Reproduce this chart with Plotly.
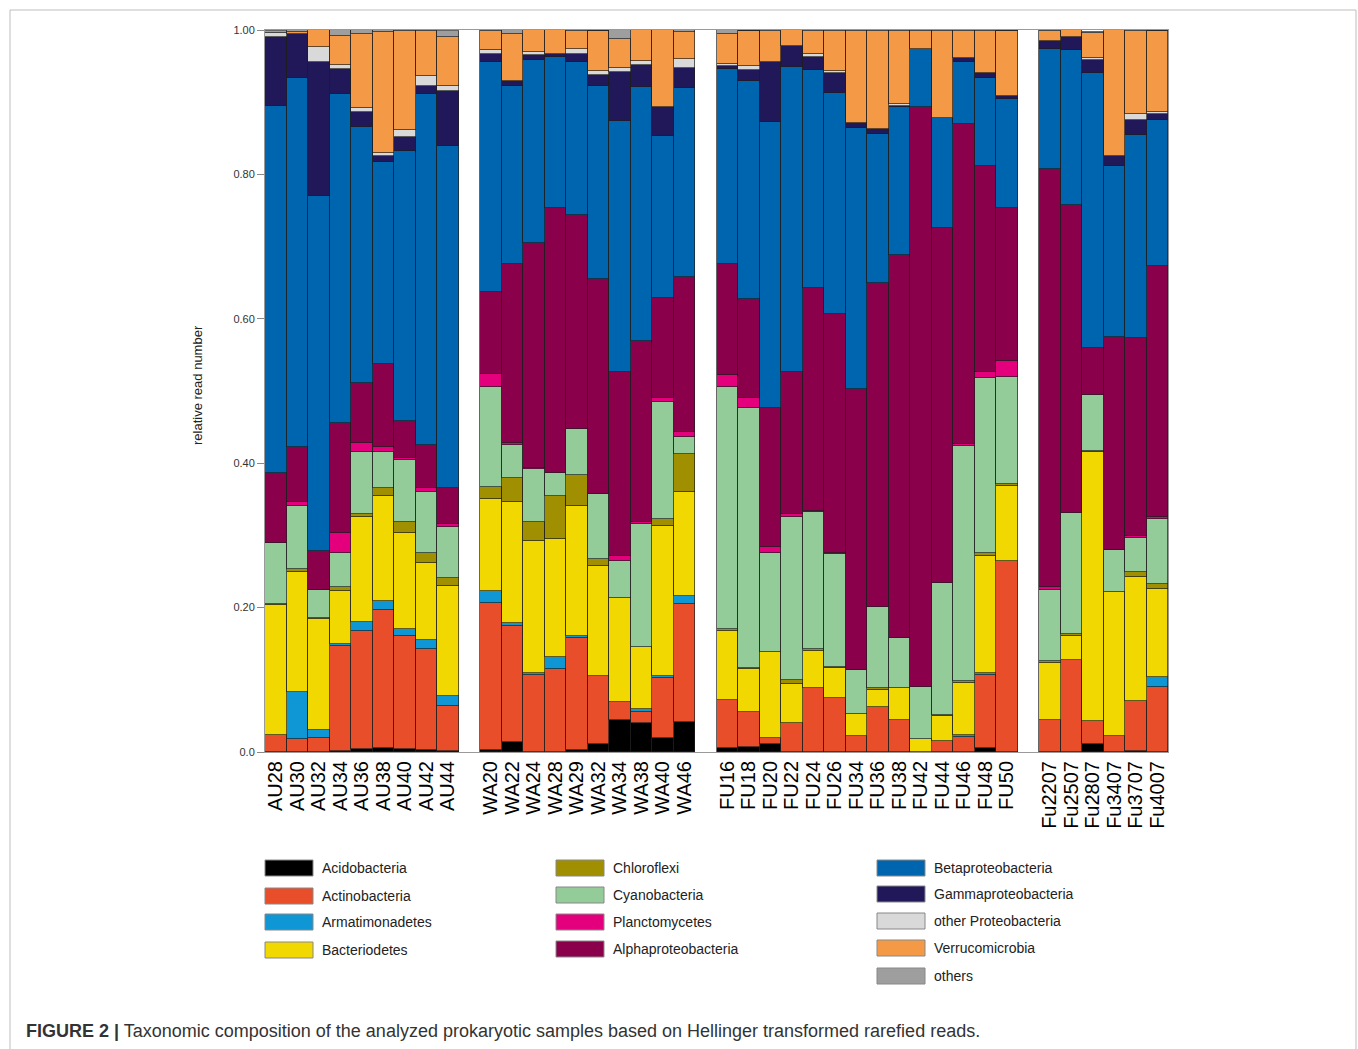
import plotly.graph_objects as go

# ---------------- data ----------------
au_samples = ["AU28", "AU30", "AU32", "AU34", "AU36", "AU38", "AU40", "AU42", "AU44"]
wa_samples = ["WA20", "WA22", "WA24", "WA28", "WA29", "WA32", "WA34", "WA38", "WA40", "WA46"]
fu_samples = ["FU16", "FU18", "FU20", "FU22", "FU24", "FU26", "FU34", "FU36", "FU38",
              "FU42", "FU44", "FU46", "FU48", "FU50"]
fu2_samples = ["Fu2207", "Fu2507", "Fu2807", "Fu3407", "Fu3707", "Fu4007"]

taxa = ["Acidobacteria", "Actinobacteria", "Armatimonadetes", "Bacteriodetes",
        "Chloroflexi", "Cyanobacteria", "Planctomycetes", "Alphaproteobacteria",
        "Betaproteobacteria", "Gammaproteobacteria", "other Proteobacteria",
        "Verrucomicrobia", "others"]

acidobacteria = [0, 0, 0, 0.002, 0.004, 0.006, 0.004, 0.003, 0.002,
                 0.003, 0.014, 0, 0, 0.003, 0.011, 0.044, 0.040, 0.019, 0.041,
                 0.006, 0.007, 0.011, 0, 0, 0, 0, 0, 0, 0, 0, 0, 0.005, 0,
                 0, 0, 0.011, 0, 0.002, 0]
actinobacteria = [0.023, 0.018, 0.019, 0.145, 0.164, 0.191, 0.156, 0.139, 0.062,
                  0.203, 0.161, 0.107, 0.115, 0.155, 0.094, 0.025, 0.016, 0.083, 0.164,
                  0.066, 0.048, 0.008, 0.040, 0.088, 0.075, 0.022, 0.062, 0.044, 0, 0.015, 0.021, 0.101, 0.265,
                  0.045, 0.127, 0.032, 0.022, 0.068, 0.090]
armatimonadetes = [0, 0.065, 0.012, 0.003, 0.012, 0.012, 0.011, 0.013, 0.014,
                   0.017, 0.004, 0.002, 0.016, 0.002, 0, 0, 0.003, 0.003, 0.011,
                   0, 0, 0, 0, 0, 0, 0, 0, 0, 0, 0, 0.002, 0.004, 0,
                   0, 0, 0, 0, 0, 0.014]
bacteriodetes = [0.180, 0.167, 0.153, 0.073, 0.146, 0.146, 0.133, 0.107, 0.152,
                 0.128, 0.167, 0.183, 0.164, 0.181, 0.152, 0.144, 0.087, 0.208, 0.144,
                 0.096, 0.060, 0.119, 0.054, 0.052, 0.042, 0.030, 0.024, 0.044, 0.018, 0.035, 0.073, 0.161, 0.103,
                 0.078, 0.034, 0.372, 0.199, 0.173, 0.122]
chloroflexi = [0.002, 0.003, 0.002, 0.006, 0.004, 0.010, 0.015, 0.013, 0.011,
               0.016, 0.034, 0.027, 0.059, 0.042, 0.010, 0, 0, 0.010, 0.053,
               0.003, 0.002, 0.001, 0.006, 0.002, 0.001, 0.001, 0.003, 0, 0, 0.001, 0.003, 0.004, 0.003,
               0.003, 0.002, 0.002, 0.001, 0.007, 0.007]
cyanobacteria = [0.085, 0.088, 0.038, 0.046, 0.085, 0.051, 0.086, 0.085, 0.070,
                 0.139, 0.045, 0.073, 0.032, 0.064, 0.091, 0.051, 0.170, 0.162, 0.023,
                 0.335, 0.360, 0.137, 0.226, 0.191, 0.156, 0.061, 0.112, 0.070, 0.072, 0.183, 0.325, 0.243, 0.148,
                 0.099, 0.168, 0.077, 0.058, 0.047, 0.090]
planctomycetes = [0, 0.005, 0, 0.029, 0.013, 0.007, 0.002, 0.005, 0.005,
                  0.017, 0.003, 0.002, 0, 0, 0, 0.008, 0.003, 0.005, 0.007,
                  0.016, 0.014, 0.008, 0.003, 0.001, 0.001, 0, 0, 0, 0, 0, 0.002, 0.008, 0.023,
                  0.003, 0, 0, 0, 0.002, 0.002]
alphaproteobacteria = [0.096, 0.076, 0.055, 0.151, 0.083, 0.114, 0.051, 0.060, 0.050,
                       0.114, 0.248, 0.311, 0.368, 0.297, 0.297, 0.255, 0.250, 0.139, 0.215,
                       0.154, 0.136, 0.193, 0.198, 0.309, 0.331, 0.389, 0.449, 0.531, 0.803, 0.492, 0.444, 0.285, 0.211,
                       0.579, 0.426, 0.066, 0.295, 0.275, 0.348]
betaproteobacteria = [0.509, 0.511, 0.491, 0.456, 0.354, 0.280, 0.375, 0.487, 0.474,
                      0.318, 0.246, 0.254, 0.208, 0.211, 0.267, 0.347, 0.352, 0.224, 0.261,
                      0.270, 0.303, 0.395, 0.422, 0.301, 0.307, 0.361, 0.206, 0.204, 0.081, 0.152, 0.085, 0.122, 0.152,
                      0.166, 0.215, 0.381, 0.236, 0.281, 0.203]
gammaproteobacteria = [0.096, 0.061, 0.186, 0.035, 0.021, 0.009, 0.019, 0.011, 0.076,
                       0.012, 0.007, 0.007, 0.005, 0.012, 0.016, 0.068, 0.031, 0.041, 0.029,
                       0.004, 0.015, 0.083, 0.029, 0.018, 0.027, 0.007, 0.007, 0.002, 0, 0, 0.006, 0.007, 0.003,
                       0.012, 0.018, 0.018, 0.014, 0.020, 0.008]
other_proteobacteria = [0.005, 0, 0.020, 0.005, 0.006, 0.003, 0.009, 0.013, 0.007,
                        0.005, 0, 0.004, 0, 0.007, 0.005, 0.005, 0.005, 0, 0.012,
                        0.003, 0.005, 0, 0, 0.005, 0.003, 0, 0, 0.003, 0, 0, 0, 0, 0,
                        0, 0, 0.002, 0, 0.008, 0.002]
verrucomicrobia = [0, 0.003, 0.024, 0.041, 0.103, 0.168, 0.138, 0.062, 0.068,
                   0.027, 0.065, 0.030, 0.033, 0.025, 0.055, 0.041, 0.043, 0.106, 0.037,
                   0.042, 0.048, 0.044, 0.022, 0.032, 0.056, 0.128, 0.136, 0.101, 0.025, 0.121, 0.038, 0.059, 0.090,
                   0.014, 0.010, 0.035, 0.175, 0.116, 0.112]
others = [0.003, 0.003, 0, 0.008, 0.005, 0.003, 0.001, 0.003, 0.008,
          0.001, 0.007, 0.001, 0, 0.001, 0.001, 0.012, 0.001, 0.001, 0.005,
          0.005, 0.001, 0.001, 0.001, 0.001, 0.001, 0.001, 0.001, 0.001, 0.001, 0.001, 0.001, 0.001, 0.001,
          0.001, 0.001, 0.001, 0.001, 0.001, 0.001]

series = [acidobacteria, actinobacteria, armatimonadetes, bacteriodetes, chloroflexi,
          cyanobacteria, planctomycetes, alphaproteobacteria, betaproteobacteria,
          gammaproteobacteria, other_proteobacteria, verrucomicrobia, others]

colors = ["#000000", "#E84E2A", "#0F97D5", "#F0D800", "#A08F00", "#93CB99", "#E4007D",
          "#8A004B", "#0065AF", "#21185A", "#D9D9D9", "#F49A46", "#9E9E9E"]

# ---------------- build category axis with spacer slots ----------------
groups = [au_samples, wa_samples, fu_samples, fu2_samples]
x_cats = []
index_map = []  # index into data arrays or None for spacer
k = 0
for gi, g in enumerate(groups):
    if gi > 0:
        x_cats.append(" " * gi)
        index_map.append(None)
    for s in g:
        x_cats.append(s)
        index_map.append(k)
        k += 1

fig = go.Figure()
for name, vals, col in zip(taxa, series, colors):
    y = []
    for idx in index_map:
        if idx is None or vals[idx] == 0:
            y.append(None)
        else:
            y.append(vals[idx])
    fig.add_trace(go.Bar(
        x=x_cats, y=y, name=name,
        marker=dict(color=col, line=dict(color="rgba(30,30,30,0.85)", width=0.8)),
        showlegend=False,
    ))

FONT = "Liberation Sans, Arial, sans-serif"

fig.update_layout(
    barmode="stack", bargap=0,
    width=1358, height=1049,
    margin=dict(l=265, r=190, t=30, b=297),
    paper_bgcolor="white", plot_bgcolor="white",
    font=dict(family=FONT, color="#222"),
    xaxis=dict(type="category", categoryorder="array", categoryarray=x_cats,
               tickmode="array", tickvals=x_cats, ticktext=x_cats,
               tickangle=-90, tickfont=dict(size=20, color="#000", family=FONT),
               showline=True, linecolor="#9a9a9a", linewidth=1, mirror=True,
               ticks="", showgrid=False),
    yaxis=dict(range=[0, 1.0], tickvals=[0, 0.2, 0.4, 0.6, 0.8, 1.0],
               ticktext=["0.0", "0.20", "0.40", "0.60", "0.80", "1.00"],
               tickfont=dict(size=11, color="#333", family=FONT),
               ticks="outside", ticklen=7, tickcolor="#888", tickwidth=1,
               showline=True, linecolor="#9a9a9a", linewidth=1, mirror=True,
               showgrid=False, zeroline=False),
)

# ---------------- helpers for paper coordinates ----------------
PL, PR, PT, PB = 265, 1168, 30, 752
def px(X):
    return (X - PL) / (PR - PL)
def py(Y):
    return (PB - Y) / (PB - PT)

annotations = []
shapes = []

# y-axis title
annotations.append(dict(x=px(197), y=py(385), xref="paper", yref="paper", text="relative read number",
                        textangle=-90, showarrow=False, font=dict(size=13, color="#222", family=FONT),
                        xanchor="center", yanchor="middle"))

# legend (3 columns)
legend_cols = [
    (265, [0, 1, 2, 3], [868, 896, 922, 950]),
    (556, [4, 5, 6, 7], [868, 895, 922, 949]),
    (877, [8, 9, 10, 11, 12], [868, 894, 921, 948, 976]),
]
for x0, idxs, ys in legend_cols:
    for i, yc in zip(idxs, ys):
        shapes.append(dict(type="rect", xref="paper", yref="paper",
                           x0=px(x0), x1=px(x0 + 48), y0=py(yc + 8), y1=py(yc - 8),
                           fillcolor=colors[i], line=dict(color="#888", width=1)))
        annotations.append(dict(x=px(x0 + 55), y=py(yc), xref="paper", yref="paper", text=taxa[i],
                                showarrow=False, xanchor="left", yanchor="middle",
                                font=dict(size=14, color="#222", family=FONT)))

# frame border
shapes.append(dict(type="rect", xref="paper", yref="paper", x0=px(10), x1=px(1356), y0=py(1070), y1=py(10),
                   line=dict(color="#bdbdbd", width=1), fillcolor="rgba(0,0,0,0)", layer="below"))

# caption
annotations.append(dict(x=px(24), y=py(1031), xref="paper", yref="paper",
                        text="<b>FIGURE 2 |</b> Taxonomic composition of the analyzed prokaryotic samples based on Hellinger transformed rarefied reads.",
                        showarrow=False, xanchor="left", yanchor="middle",
                        font=dict(size=18, color="#333", family=FONT)))

fig.update_layout(annotations=annotations, shapes=shapes)
fig.write_html("out.html",
               config={"displayModeBar": False},
               post_script="document.body.style.margin='0';document.body.style.padding='0';"
                           "document.documentElement.style.overflow='hidden';")
